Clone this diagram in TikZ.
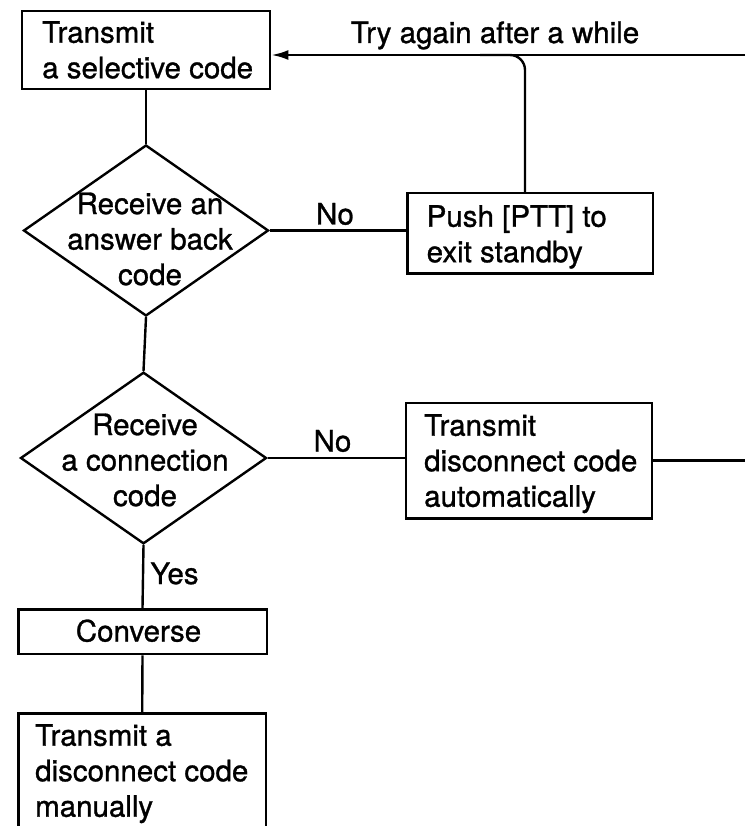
\documentclass[tikz,border=0pt]{standalone}
\usepackage{fontspec}
\setmainfont{TeX Gyre Heros}[FakeBold=1.0]
\usetikzlibrary{shapes.geometric,arrows.meta}
\begin{document}
\begin{tikzpicture}[x=1pt,y=-1pt,
  every node/.style={font=\fontsize{29.5pt}{35.5pt}\selectfont},
  line/.style={line width=2.4pt},
  box/.style={draw, line width=2.4pt, inner sep=0pt},
  dia/.style={draw, diamond, line width=2.4pt, inner sep=0pt},
  txt/.style={inner sep=0pt, align=center},
  btxt/.style={inner sep=0pt, align=left, anchor=north west},
  lbl/.style={inner sep=0pt, anchor=base},
  tip/.style={-{Latex[length=17pt,width=10pt]}}
]
\useasboundingbox (0,0) rectangle (745,826);
\clip (0,0) rectangle (745,826);

% boxes
\node[box, minimum width=248.5pt, minimum height=78pt] (b1) at (146,50) {};
\node[btxt] (b1t) at (42,21) {Transmit\\a selective code};
\node[box, minimum width=245.4pt, minimum height=80pt] (ptt) at (530.3,233.3) {};
\node[btxt] (pttt) at (426.5,205) {Push [PTT] to\\exit standby};
\node[box, minimum width=246pt, minimum height=115.6pt] (b4) at (529,460.5) {};
\node[btxt] (b4t) at (424,414) {Transmit\\disconnect code\\automatically};
\node[box, minimum width=248.4pt, minimum height=44.7pt] (conv) at (142.5,631.7) {};
\node[lbl] (convt) at (138.5,641.5) {Converse};
\coordinate (lastnw) at (18.3,713.3);
\coordinate (lastne) at (266,713.3);
\coordinate (lastsw) at (18.3,840);
\coordinate (lastse) at (266,840);
\coordinate (lasttop) at (142.2,713.3);
\node[btxt] (lastt) at (35,724) {Transmit a\\disconnect code\\manually};
\draw[line] (lastsw) -- (lastnw) -- (lastne) -- (lastse);

% diamonds
\node[dia, minimum width=245pt, minimum height=171pt] (d1) at (146,230.5) {};
\node[txt] (d1t) at (150,239) {Receive an\\answer back\\code};
\node[dia, minimum width=246pt, minimum height=171.6pt] (d2) at (143.5,458) {};
\node[txt] (d2t) at (145,460) {Receive\\a connection\\code};

% coordinates
\coordinate (rt) at (745,55);
\coordinate (mrg) at (480,55);
\coordinate (rt2) at (745,0);
\coordinate (pttup) at (525,193.3);

% connectors
\draw[line] (b1.south) -- (d1.north);
\draw[line] (d1.east) -- (d1.east -| ptt.west);
\draw[line] (d1.south) -- (d2.north);
\draw[line] (d2.east) -- (d2.east -| b4.west);
\draw[line] (b4.east) -- (b4.east -| rt2);
\draw[line] (d2.south) -- (conv.north);
\draw[line] (conv.south) -- (lasttop);
\draw[line, tip] (rt) -- (rt -| b1.east);
\draw[line, rounded corners=15pt] (pttup) |- (mrg);

% labels
\node[lbl] (try) at (495,43) {Try again after a while};
\node[lbl] (no1) at (335,224.5) {No};
\node[lbl] (no2) at (332.5,451.5) {No};
\node[lbl] (yes) at (174.5,584) {Yes};
\end{tikzpicture}
\end{document}
